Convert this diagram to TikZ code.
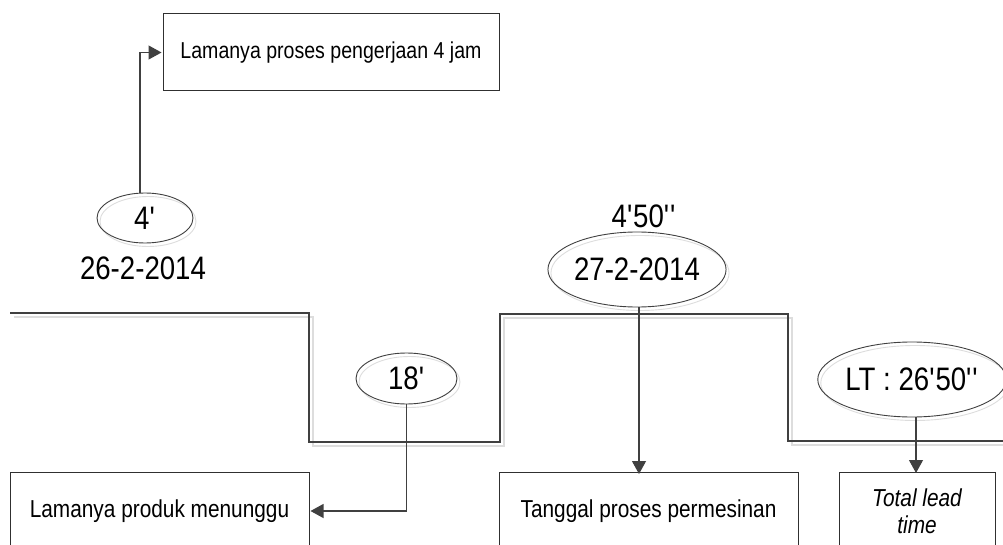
\documentclass[tikz,border=0pt]{standalone}
\usepackage{fontspec}
\setmainfont[FakeStretch=0.85]{Liberation Sans}
\usetikzlibrary{shapes.geometric,arrows.meta}
\definecolor{ln}{HTML}{404040}
\definecolor{bx}{HTML}{303030}
\definecolor{sh}{HTML}{DDDDDD}
\newcommand{\sq}{\textquotesingle}
\begin{document}
\begin{tikzpicture}[x=1pt,y=-1pt,
  small/.style={font=\fontsize{23}{27}\selectfont},
  smallb/.style={font=\fontsize{24.5}{27}\selectfont},
  big/.style={font=\fontsize{32.5}{36}\selectfont},
  boxnode/.style={draw=bx,line width=1pt,rectangle,inner sep=0pt,minimum height=77pt,align=center,small},
  ellnode/.style={draw=ln,line width=0.9pt,ellipse,inner sep=0pt,big,
    preaction={draw=sh,line width=0.9pt,transform canvas={xshift=3pt,yshift=-3.5pt}}},
  arr/.style={draw=ln,line width=1.1pt,-{Triangle[length=13pt,width=14pt]}},
  stepline/.style={draw=ln,line width=1.1pt},
  stepshadow/.style={draw=sh,line width=1.1pt}]
\clip (0,0) rectangle (1003,545);
\fill[white] (0,0) rectangle (1003,545);

% step line with shadow
\draw[stepshadow] (14,317) -- (313,317) -- (313,446) -- (504,446) -- (504,318) -- (792,318) -- (792,445) -- (1010,445);
\draw[stepline] (10,313) -- (309,313) -- (309,442) -- (500,442) -- (500,314) -- (788,314) -- (788,441) -- (1010,441);

% boxes
\node[boxnode,minimum width=336pt] (b1) at (331,52.5) {Lamanya proses pengerjaan 4 jam};
\node[boxnode,smallb,minimum width=299pt] (b2) at (159.5,511) {Lamanya produk menunggu};
\node[boxnode,smallb,minimum width=299pt] (b3) at (648.5,511) {Tanggal proses permesinan};
\node[boxnode,smallb,minimum width=156pt] (b4) at (917,511) {\itshape Total lead\\\itshape time};

% ellipses
\node[ellnode,minimum width=96pt,minimum height=50pt] (e4) at (145,218) {4\sq};
\node[ellnode,minimum width=101pt,minimum height=51pt] (e18) at (406.5,378.5) {18\sq};
\node[ellnode,minimum width=168pt,minimum height=75pt] (e27) at (637,269.5) {27-2-2014};
\node[ellnode,minimum width=168pt,minimum height=75pt] (eLT) at (912,379.5) {LT : 26\sq50\sq\sq};

% free labels
\node[big,inner sep=0pt] (d1) at (143,268) {26-2-2014};
\node[big,inner sep=0pt] (t1) at (644,216) {4\sq50\sq\sq};

% connectors
\draw[arr] ([xshift=-5pt]e4.north) |- ([xshift=-1pt]b1.west);
\draw[arr] (e18.south) |- ([xshift=1pt]b2.east);
\draw[arr] ([xshift=2pt]e27.south) -- ([xshift=2pt,yshift=-2pt]e27.south |- b3.north);
\draw[arr] ([xshift=4pt]eLT.south) -- ([xshift=4pt,yshift=-1pt]eLT.south |- b4.north);
\end{tikzpicture}
\end{document}
